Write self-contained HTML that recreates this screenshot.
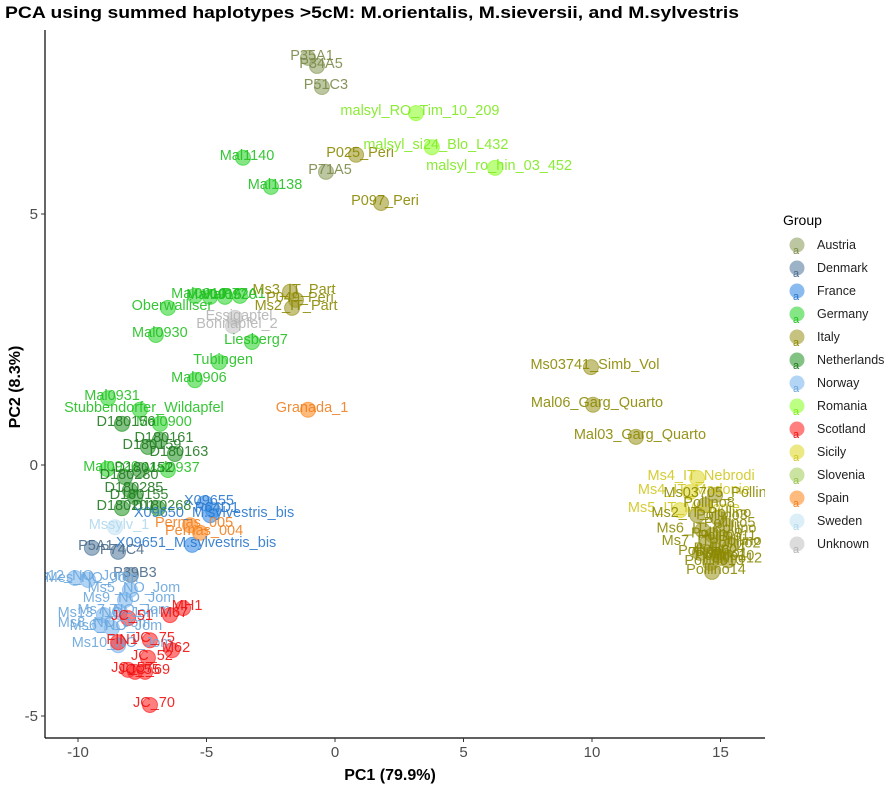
<!DOCTYPE html>
<html><head><meta charset="utf-8"><style>
body{margin:0;background:#fff;font-family:"Liberation Sans",Arial,sans-serif}
svg{display:block}
</style></head><body>
<svg id="chart" width="896" height="791">
<text x="5" y="18" font-size="17" font-weight="bold" textLength="734" lengthAdjust="spacingAndGlyphs">PCA using summed haplotypes &gt;5cM: M.orientalis, M.sieversii, and M.sylvestris</text>
<defs><clipPath id="pc"><rect x="45" y="30" width="720" height="708"/></clipPath></defs>
<g id="marks" clip-path="url(#pc)"></g>
<g id="axes"></g>
<g id="legend"></g>
<text x="390" y="780" font-size="16" font-weight="bold" text-anchor="middle">PC1 (79.9%)</text>
<text transform="translate(20,387) rotate(-90)" font-size="16" font-weight="bold" text-anchor="middle">PC2 (8.3%)</text>
</svg>
<script>
const groups=["Austria","Denmark","France","Germany","Italy","Netherlands","Norway","Romania","Scotland","Sicily","Slovenia","Spain","Sweden","Unknown"];
const fills={Austria:"#8fa060",Denmark:"#5a7fa0",France:"#3a8ee6",Germany:"#33d633",Italy:"#a09a2a",Netherlands:"#2f9a2f",Norway:"#7fb8ee",Romania:"#90ff30",Scotland:"#ff2a2a",Sicily:"#e0d830",Slovenia:"#a8d060",Spain:"#ff8c26",Sweden:"#c4e4f5",Unknown:"#c4c4c4"};
const texts={Austria:"#7a8a48",Denmark:"#4a6a8a",France:"#2a78cc",Germany:"#22c022",Italy:"#8b8800",Netherlands:"#237a23",Norway:"#6aa6dd",Romania:"#7eea20",Scotland:"#ee1111",Sicily:"#d0c820",Slovenia:"#98c050",Spain:"#f08020",Sweden:"#b0d8ee",Unknown:"#b4b4b4"};
const labels=["P35A1","P34A5","P51C3","P71A5","P025_Peri","P097_Peri","malsyl_RO_Tim_10_209","malsyl_si24_Blo_L432","malsyl_ro_hin_03_452","Mal1140","Mal1138","Mal0930","Oberwalliser","Mal0910","Mal0915","Mal0920","P77A1","Liesberg7","Tubingen","Mal0906","Mal0931","Stubbendorfer_Wildapfel","Mal0900","Mal0926","Mal0937","Essigapfel","Bohnapfel_2","Ms3_IT_Part","P049_Peri","Ms2_IT_Part","Granada_1","Ms03741_Simb_Vol","Mal06_Garg_Quarto","Mal03_Garg_Quarto","D180156","D180161","D180159","D180163","D180280","D180152","D180285","D180155","D180201","D180268","X09655","P64D1","X09650_M.sylvestris_bis","X09651_M.sylvestris_bis","Pernas_005","Pernas_004","Mssylv_1","P5A1","P74C4","P39B3","Ms12_NO_Jom","Mes_NO_Jom","Ms5_NO_Jom","Ms9_NO_Jom","Ms7_NO_Jom","Ms13_NO_Jom","Ms8_NO_Jom","Ms6_NO_Jom","Ms10_NO_Jom","MH1","M67","JC_51","FIN1","JC_75","M62","JC_52","JC_69","JC_55","JC_57","JC_70","Ms4_IT_Nebrodi","Ms4_IT_Madonie","Ms5_IT_Madonie","Ms03705_Pollino","Pollino8","Ms2_IT_Pollino","Pollino3","Pollino5","Ms6_IT_Pollino","Pollino9","Pollino11","Ms7_IT_Pollino","Pollino2","Pollino4","Pollino6","Pollino10","Pollino12","Pollino13","Pollino1","Pollino14"];
const pc1=[-1.05,-0.70,-0.51,-0.35,0.82,1.79,3.15,3.77,6.23,-3.58,-2.49,-6.97,-6.50,-5.45,-4.86,-4.28,-3.70,-3.23,-4.51,-5.45,-8.83,-7.59,-6.81,-8.87,-6.50,-3.89,-3.97,-1.75,-1.52,-1.67,-1.05,9.96,10.04,11.71,-8.29,-6.81,-7.28,-6.23,-8.17,-7.59,-7.98,-7.78,-8.29,-6.89,-5.06,-4.75,-4.86,-5.56,-5.64,-5.25,-8.56,-9.46,-8.44,-7.94,-10.12,-9.61,-7.98,-8.17,-8.37,-8.99,-9.14,-8.68,-8.44,-5.91,-6.42,-8.05,-8.44,-7.20,-6.34,-7.28,-7.39,-7.78,-8.05,-7.20,14.09,13.81,13.42,14.79,14.40,14.10,14.90,15.20,14.30,14.70,15.10,14.50,15.40,14.80,14.20,15.00,15.30,14.60,14.90,14.67];
const pc2=[8.11,7.95,7.53,5.84,6.18,5.22,7.01,6.33,5.92,6.12,5.54,2.59,3.13,3.37,3.35,3.35,3.37,2.45,2.05,1.69,1.33,1.10,0.82,-0.08,-0.10,2.93,2.77,3.45,3.29,3.13,1.10,1.95,1.20,0.56,0.82,0.50,0.36,0.22,-0.24,-0.10,-0.50,-0.64,-0.86,-0.86,-0.76,-0.90,-1.00,-1.59,-1.20,-1.35,-1.24,-1.65,-1.73,-2.19,-2.25,-2.29,-2.49,-2.69,-2.93,-2.99,-3.19,-3.25,-3.59,-2.85,-2.99,-3.05,-3.53,-3.49,-3.69,-3.84,-4.12,-4.12,-4.08,-4.78,-0.26,-0.54,-0.90,-0.60,-0.80,-1.00,-1.05,-1.20,-1.30,-1.40,-1.45,-1.55,-1.60,-1.70,-1.75,-1.85,-1.90,-1.95,-1.80,-2.13];
const grp=["Austria","Austria","Austria","Austria","Italy","Italy","Romania","Romania","Romania","Germany","Germany","Germany","Germany","Germany","Germany","Germany","Germany","Germany","Germany","Germany","Germany","Germany","Germany","Germany","Germany","Unknown","Unknown","Italy","Italy","Italy","Spain","Italy","Italy","Italy","Netherlands","Netherlands","Netherlands","Netherlands","Netherlands","Netherlands","Netherlands","Netherlands","Netherlands","Netherlands","France","France","France","France","Spain","Spain","Sweden","Denmark","Denmark","Denmark","Norway","Norway","Norway","Norway","Norway","Norway","Norway","Norway","Norway","Scotland","Scotland","Scotland","Scotland","Scotland","Scotland","Scotland","Scotland","Scotland","Scotland","Scotland","Sicily","Sicily","Sicily","Italy","Italy","Italy","Italy","Italy","Italy","Italy","Italy","Italy","Italy","Italy","Italy","Italy","Italy","Italy","Italy","Italy"];
const xTicks=[-10,-5,0,5,10,15];
const yTicks=[5,0,-5];
const NS="http://www.w3.org/2000/svg";
function xs(v){return 335+v*25.7;}
function ys(v){return 465-v*50.2;}
function mk(tag,attrs,parent){const e=document.createElementNS(NS,tag);for(const k in attrs)e.setAttribute(k,attrs[k]);parent.appendChild(e);return e;}
const marks=document.getElementById("marks");
for(let i=0;i<labels.length;i++){
  const c=mk("circle",{cx:xs(pc1[i]),cy:ys(pc2[i]),r:7.5,fill:fills[grp[i]],"fill-opacity":0.6,stroke:fills[grp[i]],"stroke-opacity":0.7},marks);
  
  
}
for(let i=0;i<labels.length;i++){
  const t=mk("text",{x:xs(pc1[i])+4,y:ys(pc2[i])+2,"font-size":14.5,"text-anchor":"middle","fill":texts[grp[i]],"fill-opacity":0.9},marks);
  t.textContent=labels[i];
  
  
}
const axes=document.getElementById("axes");
const xl=mk("line",{x1:45,y1:738,x2:765,y2:738,stroke:"#000","stroke-width":1.2},axes);


const yl=mk("line",{x1:45,y1:30,x2:45,y2:738,stroke:"#000","stroke-width":1.2},axes);


xTicks.forEach(v=>{
  mk("line",{x1:xs(v),y1:738,x2:xs(v),y2:742,stroke:"#333"},axes);
  const t=mk("text",{x:xs(v),y:757,"font-size":15,"text-anchor":"middle",fill:"#4d4d4d"},axes);
  t.textContent=v;
  
  
});
yTicks.forEach(v=>{
  mk("line",{x1:41,y1:ys(v),x2:45,y2:ys(v),stroke:"#333"},axes);
  const t=mk("text",{x:38,y:ys(v)+5,"font-size":15,"text-anchor":"end",fill:"#4d4d4d"},axes);
  t.textContent=v;
  
  
});
const lg=document.getElementById("legend");
const lt=mk("text",{x:783,y:225,"font-size":14},lg);
lt.textContent="Group";


groups.forEach((g,i)=>{
  const y=245+i*23;
  const gg=mk("g",{},lg);
  
  
  mk("circle",{cx:797,cy:y,r:7.5,fill:fills[g],"fill-opacity":0.6},gg);
  const a=mk("text",{x:793,y:y+9,"font-size":11,fill:texts[g]},gg);a.textContent="a";
  const t=mk("text",{x:817,y:y+4,"font-size":12.5,fill:"#222"},gg);t.textContent=g;
});
</script>
</body></html>
